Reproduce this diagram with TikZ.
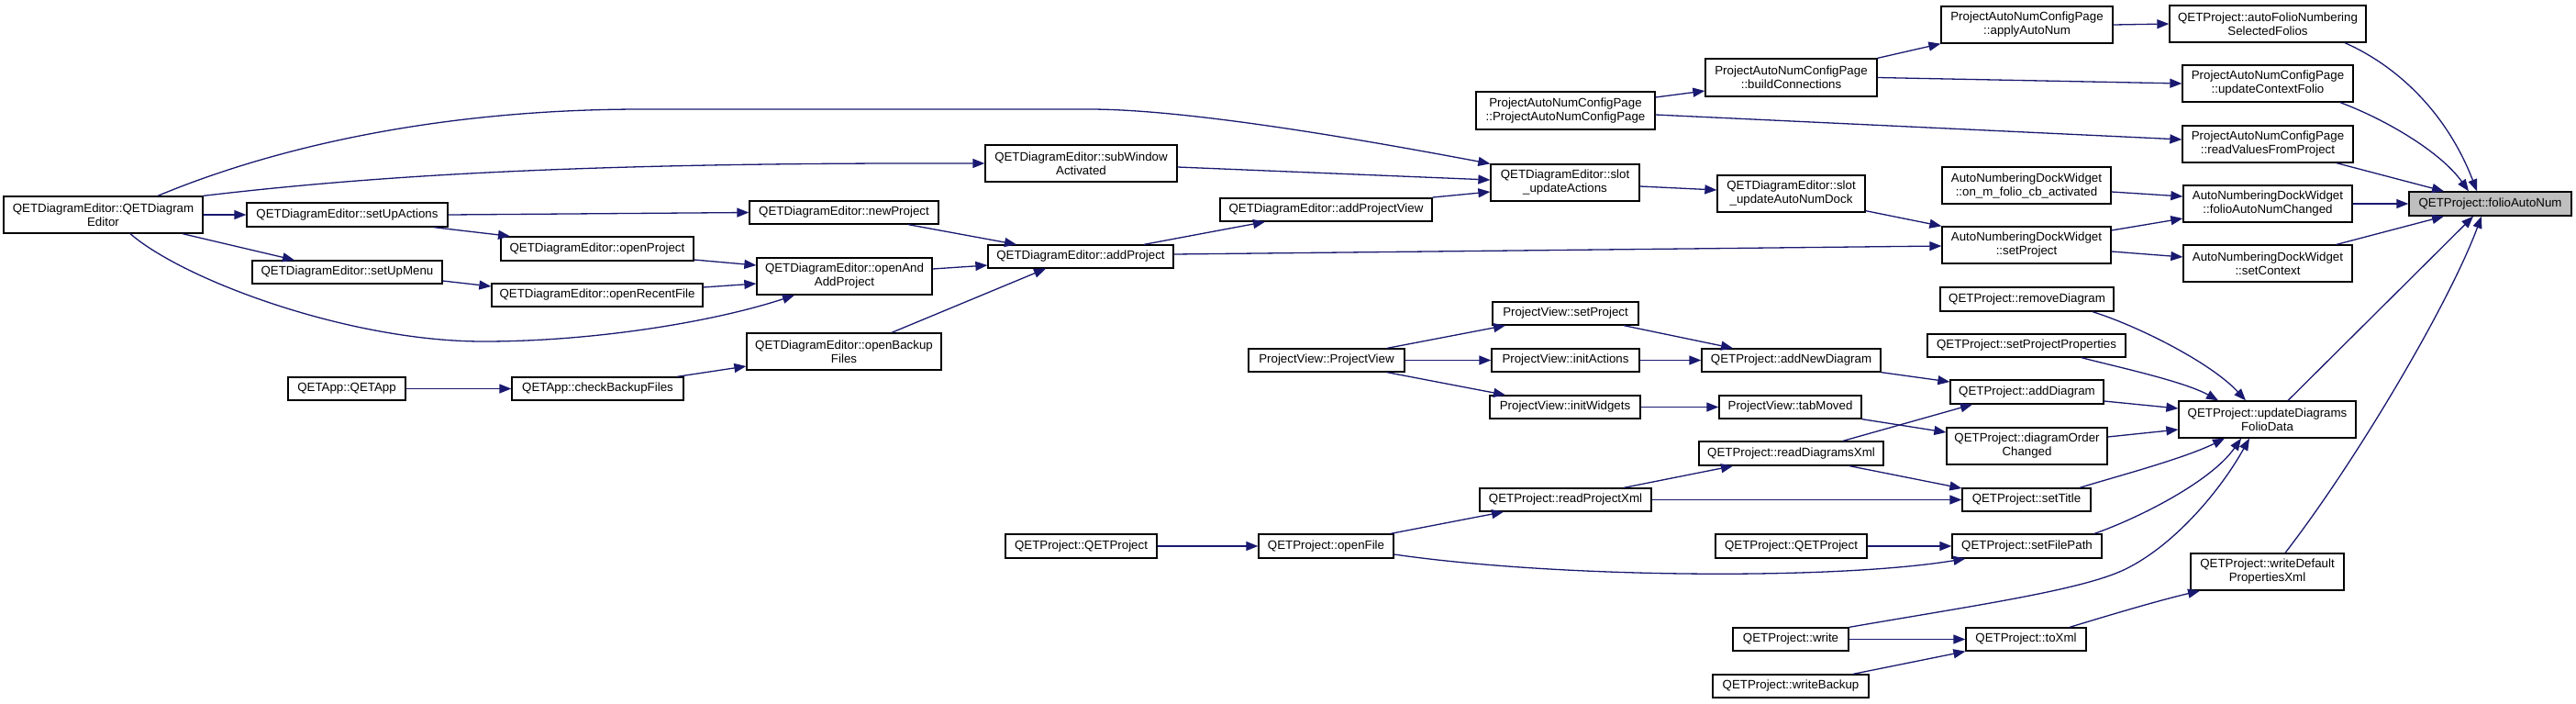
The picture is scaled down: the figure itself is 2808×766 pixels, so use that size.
\documentclass[tikz,border=0pt]{standalone}
\usepackage{fontspec}
\setmainfont{Liberation Sans}
\usetikzlibrary{arrows.meta}
\definecolor{edgecol}{HTML}{191970}
\definecolor{focusfill}{HTML}{BFBFBF}
\newcommand\mkbox[7][]{\node[box,#1,minimum width={#5-#3},minimum height={#6-#4}] (#2) at ({(#3+#5)/2},{(#4+#6)/2}) {#7};}
\begin{document}
\begin{tikzpicture}[x=1pt,y=-1pt,
  box/.style={draw=black, line width=1.3pt, fill=white, inner sep=0pt, align=center, font=\fontsize{13.3}{15}\selectfont},
  e/.style={draw=edgecol, line width=1.3pt, -{Triangle[length=13pt,width=10pt]}}]
\fill[white] (0,0) rectangle (2808,766);
\useasboundingbox (0,0) rectangle (2808,766);
% column 1-4
\mkbox{qde}{4}{214}{221}{254}{QETDiagramEditor::QETDiagram\\Editor}
\mkbox{setUpActions}{269}{221}{488}{247}{QETDiagramEditor::setUpActions}
\mkbox{setUpMenu}{275}{284}{482}{309}{QETDiagramEditor::setUpMenu}
\mkbox{qetapp}{314}{411}{442}{436}{QETApp::QETApp}
\mkbox{openProject}{546}{258}{756}{284}{QETDiagramEditor::openProject}
\mkbox{openRecentFile}{536}{309}{766}{334}{QETDiagramEditor::openRecentFile}
\mkbox{checkBackup}{558}{411}{745}{436}{QETApp::checkBackupFiles}
\mkbox{newProject}{817}{219}{1023}{244}{QETDiagramEditor::newProject}
\mkbox{openAndAdd}{825}{281}{1016}{321}{QETDiagramEditor::openAnd\\AddProject}
\mkbox{openBackup}{814}{363}{1026}{403}{QETDiagramEditor::openBackup\\Files}
% column 5-6
\mkbox{subWindow}{1074}{158}{1283}{198}{QETDiagramEditor::subWindow\\Activated}
\mkbox{addProject}{1077}{267}{1279}{292}{QETDiagramEditor::addProject}
\mkbox{qpLeft}{1096}{582}{1261}{608}{QETProject::QETProject}
\mkbox{addProjectView}{1330}{216}{1561}{241}{QETDiagramEditor::addProjectView}
\mkbox{pvPV}{1361}{380}{1531}{405}{ProjectView::ProjectView}
\mkbox{openFile}{1372}{582}{1519}{608}{QETProject::openFile}
% column 7
\mkbox{pancpCtor}{1609}{100}{1804}{141}{ProjectAutoNumConfigPage\\::ProjectAutoNumConfigPage}
\mkbox{slotUA}{1625}{179}{1787}{219}{QETDiagramEditor::slot\\\_updateActions}
\mkbox{pvSetProject}{1627}{329}{1786}{354}{ProjectView::setProject}
\mkbox{initActions}{1626}{380}{1787}{405}{ProjectView::initActions}
\mkbox{initWidgets}{1624}{431}{1788}{456}{ProjectView::initWidgets}
\mkbox{readProjectXml}{1613}{532}{1800}{557}{QETProject::readProjectXml}
% column 8
\mkbox{buildConn}{1859}{64}{2046}{105}{ProjectAutoNumConfigPage\\::buildConnections}
\mkbox{slotUAND}{1872}{191}{2033}{231}{QETDiagramEditor::slot\\\_updateAutoNumDock}
\mkbox{addNewDiagram}{1855}{380}{2050}{405}{QETProject::addNewDiagram}
\mkbox{tabMoved}{1874}{431}{2029}{456}{ProjectView::tabMoved}
\mkbox{readDiagramsXml}{1852}{481}{2053}{507}{QETProject::readDiagramsXml}
\mkbox{qpRight}{1870}{582}{2035}{608}{QETProject::QETProject}
\mkbox{write}{1889}{684}{2015}{709}{QETProject::write}
\mkbox{writeBackup}{1867}{735}{2037}{760}{QETProject::writeBackup}
% column 9
\mkbox{applyAutoNum}{2116}{7}{2303}{47}{ProjectAutoNumConfigPage\\::applyAutoNum}
\mkbox{onFolio}{2117}{182}{2301}{222}{AutoNumberingDockWidget\\::on\_m\_folio\_cb\_activated}
\mkbox{adwSetProject}{2117}{247}{2301}{287}{AutoNumberingDockWidget\\::setProject}
\mkbox{removeDiagram}{2115}{313}{2304}{339}{QETProject::removeDiagram}
\mkbox{setProjectProperties}{2101}{364}{2317}{389}{QETProject::setProjectProperties}
\mkbox{addDiagram}{2126}{414}{2293}{440}{QETProject::addDiagram}
\mkbox{diagramOrder}{2122}{466}{2297}{506}{QETProject::diagramOrder\\Changed}
\mkbox{setTitle}{2139}{532}{2279}{557}{QETProject::setTitle}
\mkbox{setFilePath}{2128}{582}{2291}{608}{QETProject::setFilePath}
\mkbox{toXml}{2143}{684}{2274}{709}{QETProject::toXml}
% column 10
\mkbox{autoFolio}{2365}{6}{2579}{46}{QETProject::autoFolioNumbering\\SelectedFolios}
\mkbox{updateCtx}{2379}{71}{2565}{111}{ProjectAutoNumConfigPage\\::updateContextFolio}
\mkbox{readValues}{2379}{137}{2565}{177}{ProjectAutoNumConfigPage\\::readValuesFromProject}
\mkbox{folioChanged}{2380}{202}{2564}{242}{AutoNumberingDockWidget\\::folioAutoNumChanged}
\mkbox{setContext}{2380}{267}{2564}{307}{AutoNumberingDockWidget\\::setContext}
\mkbox{updDiag}{2375}{437}{2568}{477}{QETProject::updateDiagrams\\FolioData}
\mkbox{writeDefault}{2388}{603}{2555}{643}{QETProject::writeDefault\\PropertiesXml}
% column 11
\mkbox[fill=focusfill]{folioAutoNum}{2626}{209}{2803}{235}{QETProject::folioAutoNum}

% edges
\draw[e] (qde.east) -- (setUpActions.west);
\draw[e] ([xshift=86.5pt]qde.south) -- ([xshift=-57.5pt]setUpMenu.north);
\draw[e] ([xshift=59.5pt]qde.north) .. controls (300,160) and (480,119) .. (700,119) -- (1187,119) .. controls (1300,119) and (1500,155) .. (slotUA.north west);
\draw[e] (qde.north east) .. controls (420,190) and (650,177) .. (subWindow.west);
\draw[e] ([xshift=29.5pt]qde.south) .. controls (200,305) and (380,372) .. (527,372) .. controls (650,372) and (780,350) .. ([xshift=-54.5pt]openAndAdd.south);
\draw[e] ([xshift=94.5pt]setUpActions.south) -- ([xshift=-95pt]openProject.north);
\draw[e] (setUpActions.east) -- (newProject.west);
\draw[e] ([yshift=-9.5pt]setUpMenu.east) -- ([yshift=9.5pt]openRecentFile.west);
\draw[e] ([yshift=-12pt]openProject.east) -- ([yshift=12pt]openAndAdd.west);
\draw[e] ([yshift=8.5pt]openRecentFile.east) -- ([yshift=-8pt]openAndAdd.west);
\draw[e] ([xshift=70pt]newProject.south) -- ([xshift=-70pt]addProject.north);
\draw[e] ([yshift=8pt]openAndAdd.east) -- ([yshift=-9.5pt]addProject.west);
\draw[e] ([xshift=52pt]openBackup.north) -- ([xshift=-38pt]addProject.south);
\draw[e] ([xshift=86.5pt]checkBackup.north) -- ([yshift=-16pt]openBackup.west);
\draw[e] (qetapp.east) -- (checkBackup.west);
\draw[e] ([xshift=69pt]addProject.north) -- ([xshift=-66.5pt]addProjectView.south);
\draw[e] ([yshift=2.5pt]addProject.east) -- ([yshift=-1pt]adwSetProject.west);
\draw[e] ([yshift=13.5pt]addProjectView.east) -- ([yshift=-10pt]slotUA.west);
\draw[e] ([yshift=-4pt]subWindow.east) -- ([yshift=3pt]slotUA.west);
\draw[e] ([yshift=-4pt]slotUA.east) -- ([yshift=4pt]slotUAND.west);
\draw[e] ([yshift=2pt]slotUAND.south east) -- (adwSetProject.north west);
\draw[e] ([yshift=14.5pt]pancpCtor.east) -- ([yshift=-14.5pt]buildConn.west);
\draw[e] ([yshift=-4.5pt]pancpCtor.east) -- ([yshift=5pt]readValues.west);
\draw[e] (buildConn.north east) -- (applyAutoNum.south west);
\draw[e] (buildConn.east) -- (updateCtx.west);
\draw[e] (applyAutoNum.east) -- (autoFolio.west);
\draw[e] ([xshift=84pt]autoFolio.south) .. controls (2620,75) and (2670,130) .. ([xshift=-14.5pt]folioAutoNum.north);
\draw[e] ([xshift=79pt]updateCtx.south) .. controls (2600,130) and (2660,165) .. ([xshift=-23.5pt]folioAutoNum.north);
\draw[e] ([xshift=75pt]readValues.south) -- ([xshift=-50.5pt]folioAutoNum.north);
\draw[e] ([yshift=-7pt]onFolio.east) -- ([yshift=8pt]folioChanged.west);
\draw[e] ([yshift=16pt]adwSetProject.east) -- ([yshift=-16pt]folioChanged.west);
\draw[e] ([yshift=-7pt]adwSetProject.east) -- ([yshift=7pt]setContext.west);
\draw[e] (folioChanged.east) -- (folioAutoNum.west);
\draw[e] ([xshift=75pt]setContext.north) -- ([xshift=-50.5pt]folioAutoNum.south);
\draw[e] ([xshift=22.5pt]updDiag.north) -- ([xshift=-18.5pt]folioAutoNum.south);
\draw[e] ([xshift=19.5pt]writeDefault.north) .. controls (2570,500) and (2670,330) .. ([xshift=-9.5pt]folioAutoNum.south);
\draw[e] ([xshift=71.5pt]removeDiagram.south) .. controls (2330,355) and (2410,395) .. ([xshift=-23.5pt]updDiag.north);
\draw[e] ([xshift=60pt]setProjectProperties.south) .. controls (2300,398) and (2380,415) .. ([xshift=-53.5pt]updDiag.north);
\draw[e] ([yshift=-10pt]addDiagram.east) -- ([yshift=12pt]updDiag.west);
\draw[e] ([yshift=10pt]diagramOrder.east) -- ([yshift=-11pt]updDiag.west);
\draw[e] ([xshift=58pt]setTitle.north) .. controls (2300,521) and (2380,500) .. ([xshift=-46.5pt]updDiag.south);
\draw[e] ([xshift=73.5pt]setFilePath.north) .. controls (2330,565) and (2410,525) .. ([xshift=-28.5pt]updDiag.south);
\draw[e] (write.north east) .. controls (2150,660) and (2270,643) .. (2317,620) .. controls (2370,594) and (2420,535) .. ([xshift=-19.5pt]updDiag.south);
\draw[e] (write.east) -- (toXml.west);
\draw[e] ([xshift=68pt]writeBackup.north) -- (toXml.south west);
\draw[e] ([yshift=-9pt]openFile.east) .. controls (1700,630) and (2000,632) .. ([xshift=15pt]setFilePath.south west);
\draw[e] (qpRight.east) -- (setFilePath.west);
\draw[e] (readProjectXml.east) -- (setTitle.west);
\draw[e] ([xshift=63.5pt]readDiagramsXml.south) -- ([yshift=12.5pt]setTitle.west);
\draw[e] ([xshift=56.5pt]readDiagramsXml.north) -- ([xshift=-59.5pt]addDiagram.south);
\draw[e] (tabMoved.south east) -- ([yshift=15pt]diagramOrder.west);
\draw[e] (addNewDiagram.south east) -- ([yshift=11pt]addDiagram.west);
\draw[e] ([xshift=63.5pt]readProjectXml.north) -- ([xshift=-63.5pt]readDiagramsXml.south);
\draw[e] ([xshift=70.5pt]openFile.north) -- ([xshift=-67.5pt]readProjectXml.south);
\draw[e] (qpLeft.east) -- (openFile.west);
\draw[e] ([xshift=66pt]pvPV.north) -- ([xshift=-65.5pt]pvSetProject.south);
\draw[e] (pvPV.east) -- (initActions.west);
\draw[e] ([xshift=66pt]pvPV.south) -- ([xshift=-65pt]initWidgets.north);
\draw[e] ([xshift=63.5pt]pvSetProject.south) -- ([xshift=-63.5pt]addNewDiagram.north);
\draw[e] (initActions.east) -- (addNewDiagram.west);
\draw[e] (initWidgets.east) -- (tabMoved.west);
\draw[e] ([xshift=47.5pt]toXml.north) .. controls (2300,670) and (2350,655) .. ([xshift=-73.5pt]writeDefault.south);
\end{tikzpicture}
\end{document}
